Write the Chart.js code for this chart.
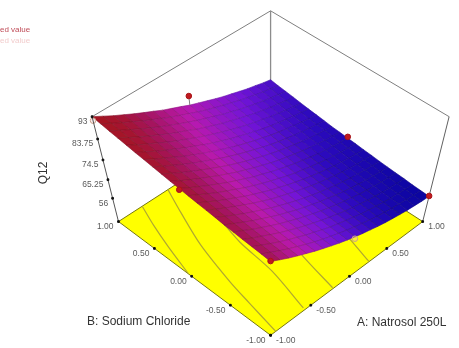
<!DOCTYPE html>
<html>
<head>
<meta charset="utf-8">
<title>Q12 response surface</title>
<style>
  html, body { margin: 0; padding: 0; background: #fff; }
  canvas { display: block; }
</style>
<script src="https://cdn.jsdelivr.net/npm/chart.js@4"></script>
</head>
<body>
<canvas id="surface" width="459" height="348"></canvas>
<script>
// factor levels of the surface grid
const aLevels = [-1, -0.9, -0.8, -0.7, -0.6, -0.5, -0.4, -0.3, -0.2, -0.1, 0, 0.1, 0.2, 0.3, 0.4, 0.5, 0.6, 0.7, 0.8, 0.9, 1];
const bLevels = [-1, -0.9, -0.8, -0.7, -0.6, -0.5, -0.4, -0.3, -0.2, -0.1, 0, 0.1, 0.2, 0.3, 0.4, 0.5, 0.6, 0.7, 0.8, 0.9, 1];

// Q12 response, one row per A level, columns follow bLevels
const q12 = [
  [84.1, 84.5, 84.8, 85.1, 85.5, 85.8, 86.3, 86.7, 87.1, 87.5, 88.0, 88.4, 88.9, 89.4, 89.9, 90.3, 90.9, 91.4, 91.9, 92.5, 93.0],
  [81.7, 82.1, 82.4, 82.7, 83.2, 83.5, 83.9, 84.3, 84.8, 85.2, 85.6, 86.0, 86.6, 87.0, 87.5, 88.1, 88.6, 89.2, 89.8, 90.3, 90.9],
  [79.4, 79.8, 80.1, 80.5, 80.8, 81.2, 81.6, 82.0, 82.4, 82.9, 83.4, 83.8, 84.3, 84.9, 85.4, 85.9, 86.5, 87.0, 87.7, 88.2, 88.8],
  [77.3, 77.6, 77.9, 78.3, 78.7, 79.0, 79.4, 79.9, 80.3, 80.7, 81.2, 81.7, 82.2, 82.7, 83.3, 83.8, 84.5, 85.0, 85.6, 86.3, 86.9],
  [75.3, 75.6, 75.9, 76.2, 76.6, 77.0, 77.4, 77.8, 78.3, 78.7, 79.2, 79.7, 80.2, 80.7, 81.2, 81.9, 82.4, 83.1, 83.7, 84.3, 85.0],
  [73.3, 73.6, 74.0, 74.3, 74.6, 75.0, 75.4, 75.8, 76.2, 76.8, 77.2, 77.7, 78.3, 78.8, 79.3, 79.9, 80.5, 81.1, 81.8, 82.5, 83.2],
  [71.5, 71.7, 72.0, 72.4, 72.8, 73.1, 73.5, 74.0, 74.4, 74.8, 75.4, 75.9, 76.4, 77.0, 77.5, 78.2, 78.8, 79.4, 80.1, 80.7, 81.5],
  [69.8, 70.0, 70.4, 70.7, 71.0, 71.4, 71.8, 72.1, 72.7, 73.1, 73.7, 74.1, 74.6, 75.2, 75.8, 76.4, 77.0, 77.8, 78.4, 79.0, 79.7],
  [68.1, 68.4, 68.7, 69.1, 69.4, 69.7, 70.1, 70.6, 70.9, 71.5, 71.9, 72.5, 73.0, 73.6, 74.2, 74.7, 75.4, 76.0, 76.8, 77.4, 78.2],
  [66.6, 66.9, 67.1, 67.5, 67.9, 68.2, 68.6, 69.1, 69.5, 69.9, 70.5, 70.9, 71.4, 72.0, 72.6, 73.2, 73.9, 74.5, 75.2, 75.9, 76.7],
  [65.2, 65.5, 65.8, 66.1, 66.4, 66.8, 67.1, 67.6, 68.0, 68.5, 69.0, 69.5, 70.0, 70.6, 71.1, 71.7, 72.4, 73.0, 73.8, 74.4, 75.1],
  [63.9, 64.2, 64.5, 64.8, 65.1, 65.4, 65.8, 66.3, 66.7, 67.1, 67.6, 68.1, 68.6, 69.2, 69.8, 70.4, 71.0, 71.6, 72.4, 73.0, 73.8],
  [62.8, 63.0, 63.3, 63.5, 63.9, 64.3, 64.6, 65.0, 65.4, 65.8, 66.4, 66.8, 67.4, 67.9, 68.5, 69.1, 69.7, 70.4, 71.0, 71.7, 72.5],
  [61.6, 61.9, 62.1, 62.4, 62.8, 63.1, 63.5, 63.9, 64.3, 64.8, 65.2, 65.7, 66.2, 66.7, 67.4, 67.9, 68.5, 69.2, 69.9, 70.5, 71.2],
  [60.6, 60.8, 61.2, 61.5, 61.8, 62.1, 62.4, 62.9, 63.3, 63.7, 64.2, 64.7, 65.1, 65.6, 66.2, 66.8, 67.4, 68.0, 68.6, 69.4, 70.0],
  [59.8, 60.0, 60.3, 60.5, 60.8, 61.2, 61.6, 61.9, 62.3, 62.8, 63.2, 63.7, 64.2, 64.7, 65.2, 65.8, 66.4, 66.9, 67.6, 68.2, 69.0],
  [59.0, 59.2, 59.5, 59.8, 60.1, 60.4, 60.7, 61.2, 61.5, 61.9, 62.3, 62.9, 63.3, 63.8, 64.4, 64.9, 65.4, 66.0, 66.6, 67.3, 67.9],
  [58.3, 58.6, 58.8, 59.1, 59.5, 59.8, 60.1, 60.4, 60.9, 61.2, 61.6, 62.1, 62.5, 63.0, 63.5, 64.1, 64.6, 65.1, 65.7, 66.3, 66.9],
  [57.8, 58.0, 58.3, 58.5, 58.8, 59.1, 59.5, 59.8, 60.2, 60.6, 61.0, 61.4, 61.8, 62.3, 62.8, 63.3, 63.8, 64.4, 64.9, 65.4, 66.1],
  [57.3, 57.5, 57.8, 58.1, 58.4, 58.7, 59.0, 59.4, 59.7, 60.1, 60.4, 60.9, 61.3, 61.7, 62.1, 62.7, 63.1, 63.6, 64.2, 64.7, 65.2],
  [57.0, 57.2, 57.4, 57.8, 58.0, 58.3, 58.6, 59.0, 59.3, 59.7, 60.0, 60.4, 60.7, 61.2, 61.6, 62.0, 62.5, 63.0, 63.5, 63.9, 64.5]
];

// axis ticks
const factorTicks = [-1, -0.5, 0, 0.5, 1];
const factorTickLabels = ["-1.00", "-0.50", "0.00", "0.50", "1.00"];
const q12Ticks = [56, 65.25, 74.5, 83.75, 93];
const q12TickLabels = ["56", "65.25", "74.5", "83.75", "93"];

// design points: above the surface in red, below it in pink
const aboveA = [0, 1, 1, -1, -1];
const aboveB = [1, 0, -1, -1, 0];
const aboveQ = [79.0, 60.6, 57.2, 84.3, 87.4];
const belowA = [-1, 0];
const belowB = [1, -1];
const belowQ = [91.4, 64.2];
const centreA = [0];
const centreB = [0];
const centreQ = [68.5];

// contours on the floor
const contourA = [
  [-0.706, -0.803, -0.896, -1],
  [-0.38, -0.509, -0.67, -0.805, -0.864, -0.937],
  [-0.3, -0.391, -0.445, -0.57],
  [-0.02, -0.114, -0.21],
  [0.42, 0.339, 0.261]
];
const contourB = [
  [1, 0.73, 0.425, 0.04],
  [1, 0.675, 0.235, -0.293, -0.6, -1],
  [0.4, 0.009, -0.464, -0.977],
  [-0.2, -0.534, -0.99],
  [-0.45, -0.72, -0.997]
];

// colour ramp of the surface
const rampLevels = [57, 62, 68, 76, 83, 88, 93];
const rampColours = [[10, 5, 160], [45, 10, 190], [115, 20, 215], [185, 25, 175], [165, 20, 95], [165, 20, 50], [165, 22, 30]];

const floorQ = 43.6;
const FONT = '"Liberation Sans", Arial, sans-serif';

// perspective view of the A/B/Q12 box, looking down at the A=-1, B=-1 corner
function project(a, b, q) {
  const c = (q - 68.3) / 24.7;
  const s = a + b;
  const w = 1 + 0.0391 * s - 0.0799 * c;
  return {
    x: 271.5 + 83.96 * (a - b) / w,
    y: (173.3 - 49.9 * s - 67.5 * c) / w
  };
}

function rampColour(q, shade) {
  let i = 0;
  while (i < rampLevels.length - 2 && q > rampLevels[i + 1]) i++;
  const t = Math.min(1, Math.max(0, (q - rampLevels[i]) / (rampLevels[i + 1] - rampLevels[i])));
  const c = rampColours[i].map((v, k) => Math.round((v + (rampColours[i + 1][k] - v) * t) * shade));
  return `rgb(${c[0]},${c[1]},${c[2]})`;
}

function line(points, color, width) {
  return {
    data: points, showLine: true, borderColor: color, borderWidth: width,
    pointRadius: 0, fill: false, tension: 0
  };
}

function polygon(points, fillColor, edgeColor, width) {
  return {
    data: points, showLine: true, backgroundColor: fillColor, borderColor: edgeColor,
    borderWidth: width, pointRadius: 0, fill: "shape", tension: 0
  };
}

function markers(points, color, edge, radius, style) {
  return {
    data: points, showLine: false, backgroundColor: color, borderColor: edge,
    borderWidth: 1, pointRadius: radius, pointStyle: style || "circle", fill: false
  };
}

const layers = [];

// back walls of the box
layers.push(line([project(-1, 1, 93), project(1, 1, 93), project(1, -1, 93)], "#7f7f7f", 1));
layers.push(line([project(1, 1, floorQ), project(1, 1, 93)], "#8c8c8c", 1.3));

// floor with its contours
layers.push(polygon(
  [project(-1, -1, floorQ), project(1, -1, floorQ), project(1, 1, floorQ), project(-1, 1, floorQ), project(-1, -1, floorQ)],
  "#ffff00", "#76760f", 1
));
contourA.forEach((as, i) => {
  const pts = as.map((a, k) => project(a, contourB[i][k], floorQ));
  const ds = line(pts, "#b0a830", 1.2);
  ds.tension = 0.3;
  layers.push(ds);
});

// centre point, mostly covered by the surface
layers.push(markers(centreA.map((a, i) => project(a, centreB[i], centreQ[i])), "#b0a0b8", "#555566", 1.2));

// surface cells, far corner first
for (let i = aLevels.length - 2; i >= 0; i--) {
  for (let j = bLevels.length - 2; j >= 0; j--) {
    const mean = (q12[i][j] + q12[i + 1][j] + q12[i + 1][j + 1] + q12[i][j + 1]) / 4;
    const cell = [
      project(aLevels[i], bLevels[j], q12[i][j]),
      project(aLevels[i + 1], bLevels[j], q12[i + 1][j]),
      project(aLevels[i + 1], bLevels[j + 1], q12[i + 1][j + 1]),
      project(aLevels[i], bLevels[j + 1], q12[i][j + 1]),
      project(aLevels[i], bLevels[j], q12[i][j])
    ];
    layers.push(polygon(cell, rampColour(mean, 1), rampColour(mean, 0.8), 0.6));
  }
}

// pink markers showing through at the edge of the surface
layers.push(markers(belowA.map((a, i) => project(a, belowB[i], belowQ[i])), "rgba(240,190,190,0.3)", "#c9a28c", 2.8));

// Q12 axis and the corner post
layers.push(line([project(-1, 1, floorQ), project(-1, 1, 93)], "#555555", 1));
layers.push(line([project(1, -1, floorQ), project(1, -1, 93)], "#606060", 1));

// stems joining each design point to the surface
aboveA.forEach((a, i) => {
  const col = aLevels.indexOf(a);
  const row = bLevels.indexOf(aboveB[i]);
  layers.push(line([project(a, aboveB[i], q12[col][row]), project(a, aboveB[i], aboveQ[i])], "#808080", 1));
});
layers.push(markers(aboveA.map((a, i) => project(a, aboveB[i], aboveQ[i])), "#c01a20", "#a81418", 2.8));

// tick marks
layers.push(markers(q12Ticks.map(q => project(-1, 1, q)), "#111", "#111", 1.2, "rect"));
layers.push(markers(factorTicks.map(b => project(-1, b, floorQ)), "#111", "#111", 1.2, "rect"));
layers.push(markers(factorTicks.map(a => project(a, -1, floorQ)), "#111", "#111", 1.2, "rect"));

// Chart.js paints the first dataset on top, so hand the layers over front first
const datasets = layers.slice().reverse();

const axisText = {
  id: "axisText",
  afterDraw(chart) {
    const { ctx, scales } = chart;
    const px = p => ({ x: scales.x.getPixelForValue(p.x), y: scales.y.getPixelForValue(p.y) });
    ctx.save();
    ctx.textBaseline = "middle";

    // tick labels
    ctx.font = "8.5px " + FONT;
    ctx.fillStyle = "#5a5a5a";
    ctx.textAlign = "right";
    q12Ticks.forEach((q, i) => {
      const p = px(project(-1, 1, q));
      ctx.fillText(q12TickLabels[i], p.x - 4.5, p.y + 5);
    });
    factorTicks.forEach((b, i) => {
      const p = px(project(-1, b, floorQ));
      ctx.fillText(factorTickLabels[i], p.x - 5, p.y + 5);
    });
    ctx.textAlign = "left";
    factorTicks.forEach((a, i) => {
      const p = px(project(a, -1, floorQ));
      ctx.fillText(factorTickLabels[i], p.x + 5.5, p.y + 5);
    });

    // legend tail
    ctx.font = "8px " + FONT;
    ctx.fillStyle = "#bf4a56";
    ctx.fillText("ed value", 0, 30);
    ctx.fillStyle = "#f2cdcd";
    ctx.fillText("ed value", 0, 40.5);

    // axis titles
    ctx.font = "12px " + FONT;
    ctx.fillStyle = "#333";
    ctx.fillText("B: Sodium Chloride", 87, 322);
    ctx.fillText("A: Natrosol 250L", 357, 323);
    ctx.translate(44, 173);
    ctx.rotate(-Math.PI / 2);
    ctx.textAlign = "center";
    ctx.fillText("Q12", 0, 0);
    ctx.restore();
  }
};

new Chart(document.getElementById("surface"), {
  type: "scatter",
  data: { datasets },
  options: {
    responsive: false,
    animation: false,
    events: [],
    layout: { padding: 0 },
    scales: {
      x: { type: "linear", display: false, min: 0, max: 459 },
      y: { type: "linear", display: false, min: 0, max: 348, reverse: true }
    },
    plugins: { legend: { display: false }, tooltip: { enabled: false } }
  },
  plugins: [axisText]
});
</script>
</body>
</html>
